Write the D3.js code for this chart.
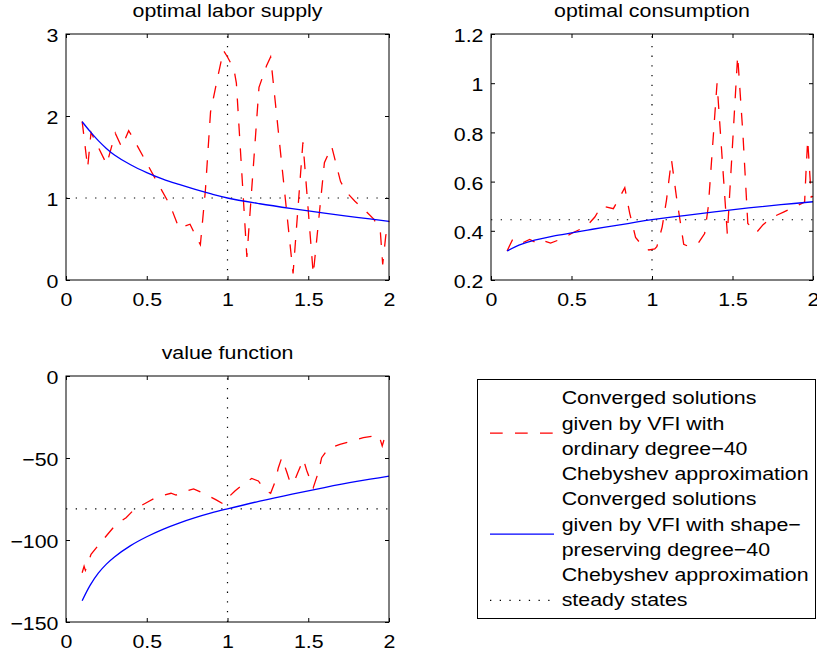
<!DOCTYPE html>
<html>
<head>
<meta charset="utf-8">
<script src="https://cdn.jsdelivr.net/npm/d3@7"></script>
<style>
  html, body { margin: 0; padding: 0; background: #fff; }
  svg { display: block; }
</style>
</head>
<body>
<svg id="chart" width="817" height="655"></svg>
<script>
// ---------- data ----------
const xTicks = [0, 0.5, 1, 1.5, 2];
const xTickLabels = ["0", "0.5", "1", "1.5", "2"];

const laborTicks = [0, 1, 2, 3];
const laborTickLabels = ["0", "1", "2", "3"];
const consTicks = [0.2, 0.4, 0.6, 0.8, 1, 1.2];
const consTickLabels = ["0.2", "0.4", "0.6", "0.8", "1", "1.2"];
const valueTicks = [-150, -100, -50, 0];
const valueTickLabels = ["\u2212150", "\u2212100", "\u221250", "0"];

// steady state
const kSteady = 1;
const laborSteady = 1;
const consSteady = 0.445;
const valueSteady = -81;

// shape-preserving solutions on the capital grid
const gridK = [0.1, 0.15, 0.2, 0.25, 0.3, 0.4, 0.5, 0.6, 0.7, 0.8, 0.9, 1.0, 1.2, 1.4, 1.6, 1.8, 2.0];
const laborShape = [1.93, 1.81, 1.70, 1.605, 1.525, 1.405, 1.31, 1.23, 1.165, 1.105, 1.05, 1.0, 0.93, 0.87, 0.815, 0.765, 0.715];
const consShape = [0.318, 0.335, 0.348, 0.358, 0.366, 0.380, 0.392, 0.403, 0.414, 0.424, 0.435, 0.445, 0.462, 0.478, 0.493, 0.506, 0.518];
const valueShape = [-137, -127.5, -120.2, -114.7, -110.3, -103.4, -98.0, -93.5, -89.7, -86.4, -83.5, -81.0, -76.3, -72.0, -68.0, -64.3, -61.0];

// ordinary Chebyshev solutions
const laborOrdK = [0.10, 0.134, 0.155, 0.252, 0.305, 0.345, 0.388, 0.41, 0.568, 0.646, 0.70, 0.768, 0.80, 0.832, 0.863, 0.895, 0.94, 0.975, 1.0, 1.04, 1.055, 1.12, 1.195, 1.243, 1.267, 1.406, 1.467, 1.531, 1.60, 1.645, 1.70, 1.738, 1.789, 1.851, 1.907, 1.946, 1.961, 1.98, 2.0];
const laborOrd = [1.935, 1.37, 1.80, 1.41, 1.79, 1.62, 1.82, 1.75, 1.18, 0.906, 0.63, 0.68, 0.55, 0.43, 1.09, 2.05, 2.48, 2.80, 2.72, 2.57, 2.40, 0.28, 2.35, 2.62, 2.72, 0.08, 1.68, 0.07, 1.43, 1.63, 1.20, 1.07, 0.96, 0.85, 0.74, 0.60, 0.19, 0.54, 0.72];

const consOrdK = [0.10, 0.132, 0.17, 0.24, 0.30, 0.335, 0.37, 0.449, 0.511, 0.593, 0.645, 0.686, 0.76, 0.796, 0.831, 0.862, 0.898, 0.949, 0.98, 1.017, 1.03, 1.063, 1.09, 1.11, 1.121, 1.152, 1.197, 1.218, 1.286, 1.327, 1.35, 1.404, 1.468, 1.532, 1.565, 1.595, 1.648, 1.69, 1.75, 1.82, 1.896, 1.948, 1.956, 1.967, 1.989, 2.0];
const consOrd = [0.318, 0.362, 0.343, 0.365, 0.345, 0.358, 0.350, 0.370, 0.393, 0.418, 0.456, 0.501, 0.490, 0.533, 0.575, 0.470, 0.373, 0.332, 0.322, 0.326, 0.335, 0.415, 0.525, 0.632, 0.689, 0.537, 0.345, 0.339, 0.348, 0.389, 0.50, 1.0, 0.385, 1.112, 0.79, 0.43, 0.392, 0.425, 0.456, 0.477, 0.50, 0.517, 0.632, 0.77, 0.537, 0.54];

const valueOrdK = [0.10, 0.112, 0.12, 0.13, 0.155, 0.2, 0.258, 0.305, 0.372, 0.423, 0.506, 0.561, 0.65, 0.681, 0.712, 0.79, 0.852, 0.93, 0.975, 1.0, 1.046, 1.108, 1.15, 1.191, 1.232, 1.267, 1.294, 1.315, 1.336, 1.367, 1.388, 1.408, 1.435, 1.47, 1.49, 1.531, 1.562, 1.583, 1.624, 1.696, 1.773, 1.841, 1.938, 1.958, 1.971, 2.0];
const valueOrd = [-120, -116, -118.5, -116, -108.7, -103.3, -96.5, -91, -86.4, -81.3, -76.8, -73.8, -71.5, -72.6, -71.1, -68.8, -71.5, -75.5, -78.1, -74.5, -70.1, -65, -62.5, -64, -69.5, -71.5, -64.6, -55.9, -49.8, -58.5, -65, -65.5, -59, -50.8, -57.5, -68.1, -58.9, -49.8, -44.3, -41.7, -39.6, -37.6, -36.2, -42.7, -38.2, -35.4];

const legendLabels = [
  ["Converged solutions", "given by VFI with", "ordinary degree\u221240", "Chebyshev approximation"],
  ["Converged solutions", "given by VFI with shape\u2212", "preserving degree\u221240", "Chebyshev approximation"],
  ["steady states"]
];

// ---------- style ----------
const FONT = "'Liberation Sans', Arial, Helvetica, sans-serif";
const FS = 18.5;          // font size
const SX = 1.155;         // horizontal stretch of glyphs
const RED = "#ff0000", BLUE = "#0000ff";
const DASH = "12.7,12.3";
const DOT = "1.3,8.4";

const svg = d3.select("#chart");

function stretchText(sel) {
  sel.attr("font-family", FONT).attr("font-size", FS).attr("fill", "#000")
     .attr("transform", function () {
       const prev = d3.select(this).attr("transform");
       return (prev ? prev + " " : "") + `scale(${SX},1)`;
     });
}

function drawPanel(box, yDomain, yTicks, yLabels, title, ssY, shapeY, ordK, ordY) {
  const x = d3.scaleLinear().domain([0, 2]).range([box.left, box.right]);
  const y = d3.scaleLinear().domain(yDomain).range([box.bottom, box.top]);
  const g = svg.append("g");

  // steady-state reference lines
  g.append("line")
    .attr("x1", x(0)).attr("x2", x(2)).attr("y1", y(ssY)).attr("y2", y(ssY))
    .attr("stroke", "#000").attr("stroke-width", 1.2).attr("stroke-dasharray", DOT);
  g.append("line")
    .attr("x1", x(kSteady)).attr("x2", x(kSteady)).attr("y1", y(yDomain[0])).attr("y2", y(yDomain[1]))
    .attr("stroke", "#000").attr("stroke-width", 1.2).attr("stroke-dasharray", DOT);

  // ordinary approximation (dashed red)
  const ordPts = ordK.map((k, i) => [k, ordY[i]]);
  g.append("path")
    .datum(ordPts)
    .attr("fill", "none").attr("stroke", RED).attr("stroke-width", 1.3)
    .attr("stroke-dasharray", DASH)
    .attr("d", d3.line().x(d => x(d[0])).y(d => y(d[1])));

  // shape-preserving approximation (solid blue)
  const shapePts = gridK.map((k, i) => [k, shapeY[i]]);
  g.append("path")
    .datum(shapePts)
    .attr("fill", "none").attr("stroke", BLUE).attr("stroke-width", 1.3)
    .attr("d", d3.line().curve(d3.curveCatmullRom.alpha(0.5)).x(d => x(d[0])).y(d => y(d[1])));

  // axes with inward ticks on all four sides
  const bottom = g.append("g").attr("transform", `translate(0,${box.bottom})`)
    .call(d3.axisBottom(x).tickValues(xTicks).tickFormat((d, i) => xTickLabels[i])
      .tickSize(-4).tickSizeOuter(0).tickPadding(12.4));
  const top = g.append("g").attr("transform", `translate(0,${box.top})`)
    .call(d3.axisTop(x).tickValues(xTicks).tickFormat("").tickSize(-4).tickSizeOuter(0));
  const left = g.append("g").attr("transform", `translate(${box.left},0)`)
    .call(d3.axisLeft(y).tickValues(yTicks).tickFormat((d, i) => yLabels[i])
      .tickSize(-4).tickSizeOuter(0).tickPadding(6.5));
  const right = g.append("g").attr("transform", `translate(${box.right},0)`)
    .call(d3.axisRight(y).tickValues(yTicks).tickFormat("").tickSize(-4).tickSizeOuter(0));

  [bottom, top, left, right].forEach(a => {
    a.select(".domain").remove();
    a.selectAll(".tick line").attr("stroke", "#000").attr("stroke-width", 1);
  });
  stretchText(bottom.selectAll(".tick text"));
  stretchText(left.selectAll(".tick text").attr("dy", "0.42em"));

  g.append("rect")
    .attr("x", box.left).attr("y", box.top)
    .attr("width", box.right - box.left).attr("height", box.bottom - box.top)
    .attr("fill", "none").attr("stroke", "#000").attr("stroke-width", 1);

  // title
  g.append("text")
    .attr("text-anchor", "middle")
    .attr("transform", `translate(${(box.left + box.right) / 2},${box.top - 17})`)
    .text(title)
    .call(stretchText);
}

drawPanel({ left: 66, right: 389, top: 34, bottom: 280 }, [0, 3], laborTicks, laborTickLabels,
  "optimal labor supply", laborSteady, laborShape, laborOrdK, laborOrd);
drawPanel({ left: 491, right: 813, top: 34, bottom: 280 }, [0.2, 1.2], consTicks, consTickLabels,
  "optimal consumption", consSteady, consShape, consOrdK, consOrd);
drawPanel({ left: 66, right: 389, top: 376, bottom: 622 }, [-150, 0], valueTicks, valueTickLabels,
  "value function", valueSteady, valueShape, valueOrdK, valueOrd);

// ---------- legend ----------
const leg = svg.append("g");
leg.append("rect")
  .attr("x", 477.5).attr("y", 379.5).attr("width", 338).attr("height", 239)
  .attr("fill", "#fff").attr("stroke", "#000").attr("stroke-width", 1);

const lineGap = 25.25, firstBase = 404.3, textX = 561.7;
const sampleStyles = [
  { stroke: RED, dash: DASH, w: 1.3 },
  { stroke: BLUE, dash: null, w: 1.3 },
  { stroke: "#000", dash: DOT, w: 1.2 }
];
let row = 0;
legendLabels.forEach((lines, e) => {
  const b0 = firstBase + row * lineGap;
  const b1 = firstBase + (row + lines.length - 1) * lineGap;
  const sy = lines.length > 1 ? (b0 + b1) / 2 - 9 : b0 - 6;
  const st = sampleStyles[e];
  leg.append("line")
    .attr("x1", 490).attr("x2", 554).attr("y1", sy).attr("y2", sy)
    .attr("stroke", st.stroke).attr("stroke-width", st.w)
    .attr("stroke-dasharray", st.dash);
  lines.forEach((t, j) => {
    leg.append("text")
      .attr("transform", `translate(${textX},${firstBase + (row + j) * lineGap})`)
      .text(t)
      .call(stretchText);
  });
  row += lines.length;
});
</script>
</body>
</html>
